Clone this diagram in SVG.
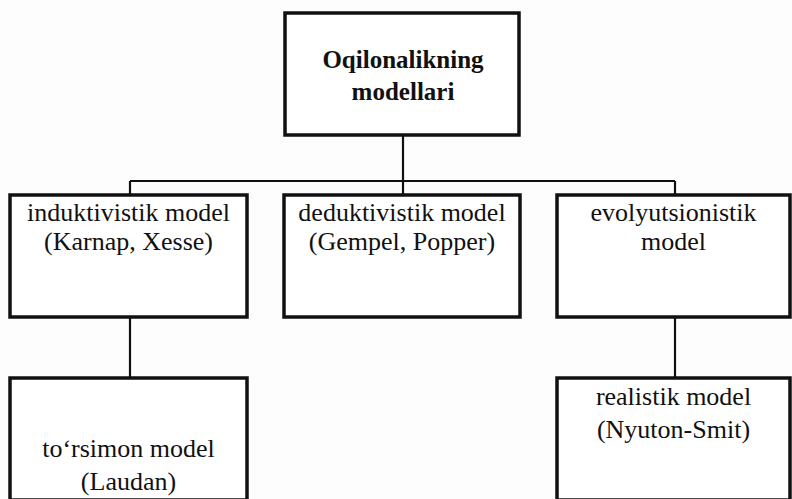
<svg xmlns="http://www.w3.org/2000/svg" width="792" height="499" viewBox="0 0 792 499">
<style>
.box{fill:#ffffff;stroke:#111111;stroke-width:3.5}
.conn{fill:none;stroke:#111111;stroke-width:2.2}
.t{font-family:"Liberation Serif","Times New Roman",serif;font-size:26px;fill:#111111;text-anchor:middle}
.tb{font-family:"Liberation Serif","Times New Roman",serif;font-size:25px;font-weight:bold;fill:#111111;text-anchor:middle}
</style>
<rect x="0" y="0" width="792" height="499" fill="#fdfdfd"/>
<g id="connectors">
<path class="conn" d="M403,135 V181"/>
<path class="conn" d="M130,181 H675"/>
<path class="conn" d="M130,181 V195"/>
<path class="conn" d="M403,181 V195"/>
<path class="conn" d="M675,181 V195"/>
<path class="conn" d="M130,317 V378"/>
<path class="conn" d="M675,317 V378"/>
</g>
<g id="node-root">
<rect class="box" x="285" y="13" width="234" height="122"/>
<text class="tb" x="403" y="68">Oqilonalikning</text>
<text class="tb" x="403" y="100">modellari</text>
</g>
<g id="node-induktiv">
<rect class="box" x="10" y="195" width="237" height="122"/>
<text class="t" x="128.5" y="221">induktivistik model</text>
<text class="t" x="128.5" y="250">(Karnap, Xesse)</text>
</g>
<g id="node-deduktiv">
<rect class="box" x="284" y="195" width="236" height="122"/>
<text class="t" x="402" y="221">deduktivistik model</text>
<text class="t" x="402" y="250">(Gempel, Popper)</text>
</g>
<g id="node-evolyut">
<rect class="box" x="557" y="195" width="233" height="122"/>
<text class="t" x="673.5" y="221">evolyutsionistik</text>
<text class="t" x="673.5" y="250">model</text>
</g>
<g id="node-torsimon">
<rect class="box" x="10" y="378" width="237" height="122"/>
<text class="t" x="128.5" y="457">to‘rsimon model</text>
<text class="t" x="128.5" y="490">(Laudan)</text>
</g>
<g id="node-realistik">
<rect class="box" x="557" y="378" width="233" height="122"/>
<text class="t" x="673.5" y="405">realistik model</text>
<text class="t" x="673.5" y="438">(Nyuton-Smit)</text>
</g>
</svg>
